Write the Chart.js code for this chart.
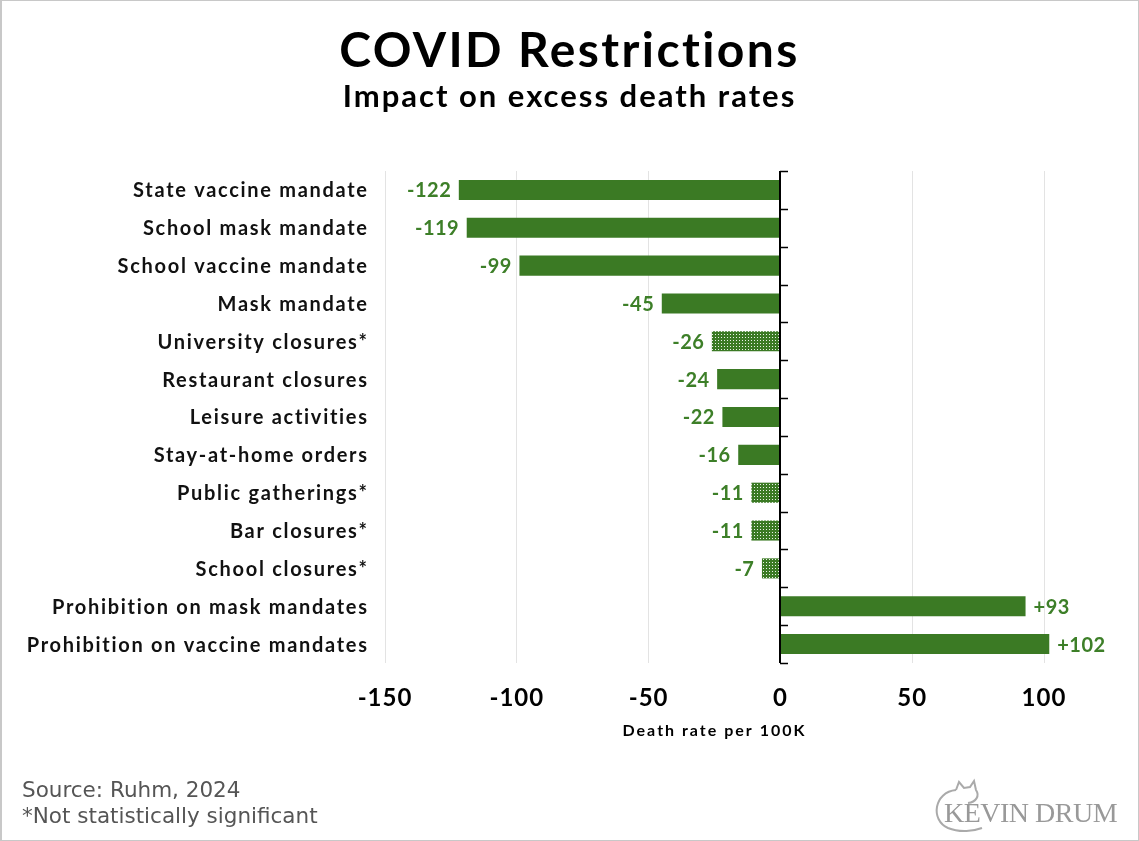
<!DOCTYPE html>
<html><head><meta charset="utf-8">
<script src="https://cdn.jsdelivr.net/npm/chart.js@4.4.1/dist/chart.umd.min.js"></script>
<style>
html,body{margin:0;padding:0;background:#fff;}
#wrap{position:relative;width:1139px;height:841px;overflow:hidden;background:#fff;}
#c{position:absolute;left:0;top:0;}
#frame{position:absolute;left:0;top:0;width:1139px;height:841px;box-sizing:border-box;border:1px solid #c8c8c8;border-left:2px solid #c8c8c8;pointer-events:none;}
.t{position:absolute;left:0;width:1139px;text-align:center;font-family:Lato,sans-serif;font-weight:700;color:#000;white-space:nowrap;}
#title{top:20px;font-size:48px;line-height:57.6px;letter-spacing:2.4px;}
#subtitle{top:77px;font-size:31px;line-height:37.2px;letter-spacing:2px;}
.src{position:absolute;left:22px;font-family:"DejaVu Sans",sans-serif;font-size:21.5px;line-height:26px;color:#555;white-space:nowrap;}
#logo{position:absolute;left:926px;top:776px;width:200px;height:60px;}
#logotext{position:absolute;left:944px;top:797px;font-family:"Liberation Serif","DejaVu Serif",serif;font-size:28px;line-height:32px;color:#999;white-space:nowrap;letter-spacing:-0.5px;}
</style></head>
<body>
<div id="wrap">
<canvas id="c" width="1139" height="841"></canvas>
<div class="t" id="title">COVID Restrictions</div>
<div class="t" id="subtitle">Impact on excess death rates</div>
<div class="src" style="top:777px">Source: Ruhm, 2024</div>
<div class="src" style="top:803px">*Not statistically significant</div>
<svg id="logo" viewBox="0 0 200 60"><path d="M30 14 C 8 16, 4 44, 22 52 C 34 57, 48 55, 56 52" fill="none" stroke="#aaa" stroke-width="2"/><path d="M30 14 L 33 6 L 38 12 L 44 11 L 48 5 L 50 14 C 54 20, 50 26, 42 27" fill="none" stroke="#aaa" stroke-width="2"/></svg>
<div id="logotext">KEVIN DRUM</div>
<div id="frame"></div>
</div>
<script>
const categories = [
  "State vaccine mandate",
  "School mask mandate",
  "School vaccine mandate",
  "Mask mandate",
  "University closures*",
  "Restaurant closures",
  "Leisure activities",
  "Stay-at-home orders",
  "Public gatherings*",
  "Bar closures*",
  "School closures*",
  "Prohibition on mask mandates",
  "Prohibition on vaccine mandates"
];
const values = [-122, -119, -99, -45, -26, -24, -22, -16, -11, -11, -7, 93, 102];
const significant = [true, true, true, true, false, true, true, true, false, false, false, true, true];
const xTicks = [-150, -100, -50, 0, 50, 100];
const xTitle = "Death rate per 100K";

const green = '#3b7a24';
const labelGreen = '#3d7f28';

function makePattern() {
  const p = document.createElement('canvas');
  p.width = 3; p.height = 3;
  const g = p.getContext('2d');
  g.fillStyle = green; g.fillRect(0, 0, 3, 3);
  g.fillStyle = 'rgba(255,255,255,0.9)';
  g.fillRect(1, 1, 1, 1);
  return document.getElementById('c').getContext('2d').createPattern(p, 'repeat');
}
const pattern = makePattern();

const spacingPlugin = {
  id: 'spacing',
  beforeDraw(chart) { chart.ctx.letterSpacing = '1px'; }
};

const axisPlugin = {
  id: 'zeroAxis',
  afterDatasetsDraw(chart) {
    const { ctx, chartArea, scales } = chart;
    const x0 = Math.round(scales.x.getPixelForValue(0));
    const n = categories.length;
    const step = (chartArea.bottom - chartArea.top) / n;
    ctx.save();
    ctx.strokeStyle = '#000';
    ctx.lineWidth = 2;
    ctx.beginPath();
    ctx.moveTo(x0, chartArea.top);
    ctx.lineTo(x0, chartArea.bottom);
    ctx.stroke();
    ctx.lineWidth = 1.5;
    for (let i = 0; i <= n; i++) {
      const y = Math.round(chartArea.top + i * step) + 0.5;
      ctx.beginPath();
      ctx.moveTo(x0, y);
      ctx.lineTo(x0 + 8, y);
      ctx.stroke();
    }
    ctx.restore();
  }
};

const labelPlugin = {
  id: 'valueLabels',
  afterDatasetsDraw(chart) {
    const ctx = chart.ctx;
    const meta = chart.getDatasetMeta(0);
    ctx.save();
    ctx.font = '700 20px Lato';
    ctx.letterSpacing = '0.5px';
    ctx.fillStyle = labelGreen;
    ctx.textBaseline = 'middle';
    meta.data.forEach((bar, i) => {
      const v = values[i];
      const txt = (v > 0 ? '+' : '') + v;
      if (v < 0) { ctx.textAlign = 'right'; ctx.fillText(txt, bar.x - 7.5, bar.y + 1); }
      else { ctx.textAlign = 'left'; ctx.fillText(txt, bar.x + 8, bar.y + 1); }
    });
    ctx.restore();
  }
};

const catLabelPlugin = {
  id: 'catLabels',
  afterDraw(chart) {
    const { ctx, chartArea, scales } = chart;
    const y = scales.y;
    ctx.save();
    ctx.font = '700 20px Lato';
    ctx.letterSpacing = '1.7px';
    ctx.fillStyle = '#111';
    ctx.textAlign = 'right';
    ctx.textBaseline = 'middle';
    categories.forEach((c, i) => {
      ctx.fillText(c, chartArea.left - 18 + 1.7, y.getPixelForValue(i) + 1);
    });
    ctx.font = '700 16px Lato';
    ctx.letterSpacing = '2px';
    ctx.fillStyle = '#000';
    ctx.textAlign = 'center';
    ctx.fillText(xTitle, (chartArea.left + chartArea.right) / 2, 731);
    ctx.restore();
  }
};

new Chart(document.getElementById('c'), {
  type: 'bar',
  data: {
    labels: categories,
    datasets: [{
      data: values,
      backgroundColor: values.map((v, i) => significant[i] ? green : pattern),
      borderWidth: 0,
      categoryPercentage: 1,
      barPercentage: 0.53,
      clip: false
    }]
  },
  options: {
    indexAxis: 'y',
    responsive: false,
    animation: false,
    events: [],
    layout: { padding: { top: 171, right: 95, bottom: 78, left: 0 } },
    plugins: { legend: { display: false }, tooltip: { enabled: false }, title: { display: false } },
    scales: {
      x: {
        min: -150, max: 100,
        afterBuildTicks(scale) { scale.ticks = xTicks.map(v => ({ value: v })); },
        afterFit(scale) { scale.height = 100; },
        grid: {
          drawTicks: false,
          color: ctx => (ctx.tick && ctx.tick.value === 0) ? 'rgba(0,0,0,0)' : '#e3e3e3',
          lineWidth: 1
        },
        border: { display: false },
        ticks: {
          padding: 21,
          color: '#000',
          font: { family: 'Lato', weight: '700', size: 24 },
          callback: v => String(v)
        },
        title: { display: false }
      },
      y: {
        afterFit(scale) { scale.width = 385; },
        grid: { display: false, drawTicks: false },
        border: { display: false },
        ticks: { display: false }
      }
    }
  },
  plugins: [spacingPlugin, axisPlugin, labelPlugin, catLabelPlugin]
});
</script>
</body></html>
